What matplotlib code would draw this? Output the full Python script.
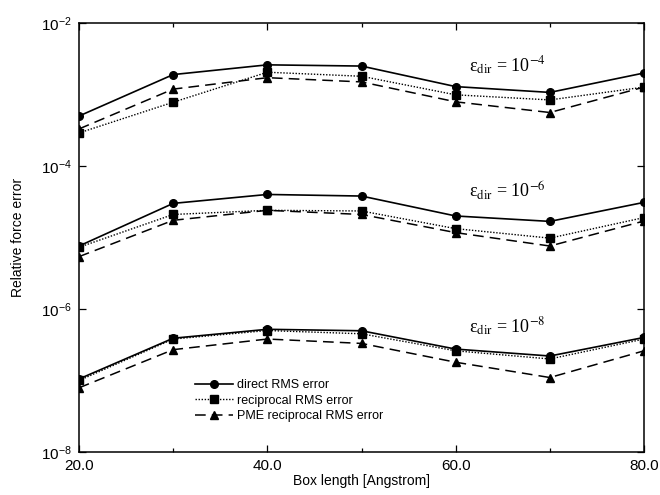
import numpy as np
import matplotlib.pyplot as plt
from matplotlib.ticker import FixedLocator, FixedFormatter

plt.rcParams['font.family'] = ['Liberation Sans', 'DejaVu Sans']
plt.rcParams['mathtext.fontset'] = 'custom'
plt.rcParams['mathtext.rm'] = 'Liberation Sans'

box = [20, 30, 40, 50, 60, 70, 80]

# eps_dir = 1e-4
direct_4 = [5.0e-4, 1.9e-3, 2.6e-3, 2.5e-3, 1.29e-3, 1.07e-3, 2.0e-3]
recip_4 = [2.9e-4, 7.8e-4, 2.05e-3, 1.8e-3, 9.9e-4, 8.4e-4, 1.27e-3]
pme_4 = [3.3e-4, 1.19e-3, 1.72e-3, 1.5e-3, 7.9e-4, 5.6e-4, 1.27e-3]

# eps_dir = 1e-6
direct_6 = [7.6e-6, 3.0e-5, 4.0e-5, 3.8e-5, 2.0e-5, 1.68e-5, 3.1e-5]
recip_6 = [7.3e-6, 2.1e-5, 2.4e-5, 2.35e-5, 1.33e-5, 9.8e-6, 1.9e-5]
pme_6 = [5.4e-6, 1.74e-5, 2.4e-5, 2.1e-5, 1.17e-5, 7.6e-6, 1.7e-5]

# eps_dir = 1e-8
direct_8 = [1.05e-7, 3.9e-7, 5.2e-7, 4.96e-7, 2.75e-7, 2.2e-7, 4.0e-7]
recip_8 = [1.0e-7, 3.8e-7, 5.0e-7, 4.5e-7, 2.6e-7, 2.0e-7, 3.8e-7]
pme_8 = [7.9e-8, 2.7e-7, 3.8e-7, 3.3e-7, 1.8e-7, 1.1e-7, 2.6e-7]

labels = ['direct RMS error', 'reciprocal RMS error', 'PME reciprocal RMS error']

fig = plt.figure(figsize=(6.6, 4.95), dpi=100)
ax = fig.add_axes([0.1197, 0.0869, 0.8561, 0.8666])

sty_d = dict(color='k', lw=1.2, ls='-', marker='o', ms=5.5)
sty_r = dict(color='k', lw=1.0, ls=(0, (1, 1.2)), marker='s', ms=5.5)
sty_p = dict(color='k', lw=1.1, ls=(0, (7, 4)), marker='^', ms=6)

for d, r, p in [(direct_4, recip_4, pme_4), (direct_6, recip_6, pme_6),
                (direct_8, recip_8, pme_8)]:
    l1, = ax.plot(box, d, **sty_d)
    l2, = ax.plot(box, r, **sty_r)
    l3, = ax.plot(box, p, **sty_p)

ax.set_yscale('log')
ax.set_xlim(20, 80)
ax.set_ylim(1e-8, 1e-2)
for s in ax.spines.values():
    s.set_linewidth(1.1)

ax.yaxis.set_major_locator(FixedLocator([1e-8, 1e-6, 1e-4, 1e-2]))
ax.yaxis.set_minor_locator(FixedLocator([]))
ax.xaxis.set_major_locator(FixedLocator([20, 40, 60, 80]))
ax.xaxis.set_major_formatter(FixedFormatter(['20.0', '40.0', '60.0', '80.0']))
ax.xaxis.set_minor_locator(FixedLocator([30, 50, 70]))
ax.tick_params(which='both', direction='in', top=True, right=True,
               labelsize=11, width=0.9)
ax.tick_params(which='major', length=5, pad=5)
ax.tick_params(which='minor', length=3)

ax.set_xlabel('Box length [Angstrom]', fontsize=10, labelpad=1)
ax.set_ylabel('Relative force error', fontsize=10, labelpad=12)

plt.rcParams['mathtext.fontset'] = 'stix'
serif = dict(family='Liberation Serif', fontsize=13, va='center', ha='left')
ax.text(61.4, 2.55e-3, 'ε$_{\\rm dir}$ = 10$^{-4}$', **serif)
ax.text(61.4, 4.5e-5, 'ε$_{\\rm dir}$ = 10$^{-6}$', **serif)
ax.text(61.4, 5.7e-7, 'ε$_{\\rm dir}$ = 10$^{-8}$', **serif)

ax.legend([l1, l2, l3], labels, loc='upper left', bbox_to_anchor=(0.195, 0.185),
          frameon=False, fontsize=9, handlelength=3, handletextpad=0.3,
          labelspacing=0.3, borderpad=0)

fig.savefig('out.png', dpi=100)
